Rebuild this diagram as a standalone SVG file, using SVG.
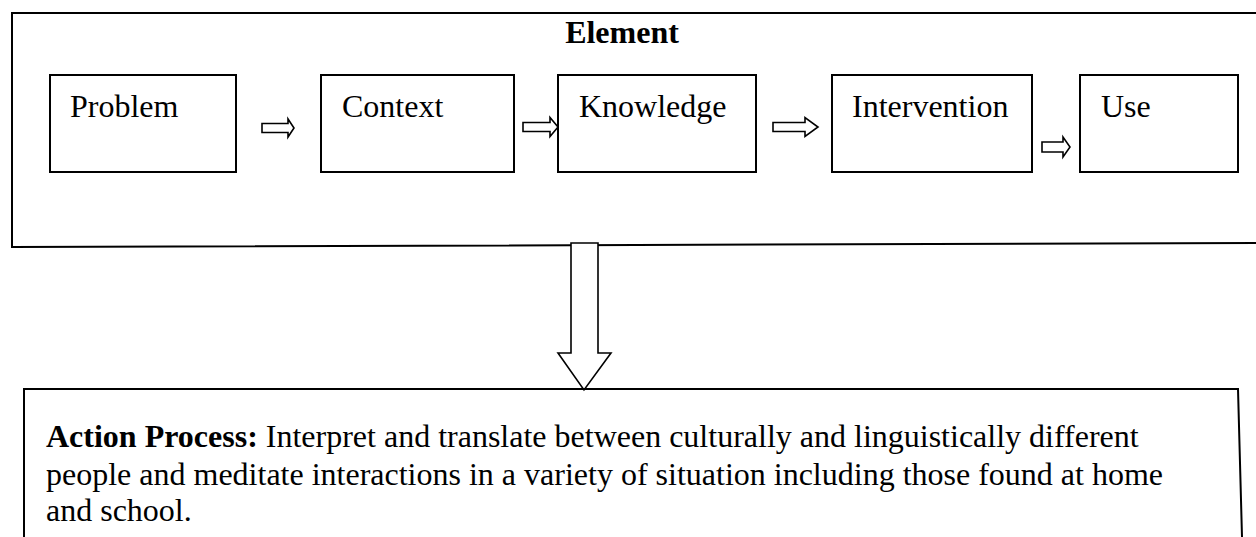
<svg xmlns="http://www.w3.org/2000/svg" width="1256" height="537" viewBox="0 0 1256 537">
<style>
.ln{fill:none;stroke:#000;stroke-width:2}
.box{fill:#fff;stroke:#000;stroke-width:2}
.arr{fill:#fff;stroke:#000;stroke-width:1.6;stroke-linejoin:miter}
.t{font-family:"Liberation Serif","Times New Roman",serif;font-size:32px;fill:#000}
.b{font-weight:bold}
</style>
<rect width="1256" height="537" fill="#fff"/>
<g id="element-frame">
<path class="ln" d="M1256,13 H12 V247 L1256,243"/>
<text class="t b" x="622" y="43" text-anchor="middle">Element</text>
</g>
<g id="problem"><rect class="box" x="50" y="75" width="186" height="97"/><text class="t" x="70" y="117">Problem</text></g>
<g id="context"><rect class="box" x="321" y="75" width="193" height="97"/><text class="t" x="342" y="117">Context</text></g>
<g id="knowledge"><rect class="box" x="558" y="75" width="198" height="97"/><text class="t" x="579" y="117">Knowledge</text></g>
<g id="intervention"><rect class="box" x="832" y="75" width="200" height="97"/><text class="t" x="852" y="117">Intervention</text></g>
<g id="use"><rect class="box" x="1080" y="75" width="158" height="97"/><text class="t" x="1101" y="117">Use</text></g>
<g id="connectors">
<path class="arr" d="M262,123.5 H288 V119 L294,128 L288,137 V132.5 H262 Z"/>
<path class="arr" d="M523,122.5 H550 V117.5 L558,127 L550,136.5 V131.5 H523 Z"/>
<path class="arr" d="M773,122.5 H805 V117.5 L818,127 L805,136.5 V131.5 H773 Z"/>
<path class="arr" d="M1042,142 H1063 V137 L1070,147 L1063,157 V152 H1042 Z"/>
<path class="arr" d="M571,243 H598 V353 H611 L584,390 L558,353 H571 Z" stroke-width="2"/>
</g>
<g id="action-process">
<path class="ln" d="M24,537 V389 H1238 L1242,537"/>
<text class="t" x="46" y="447"><tspan class="b">Action Process:</tspan> Interpret and translate between culturally and linguistically different</text>
<text class="t" x="46" y="485">people and meditate interactions in a variety of situation including those found at home</text>
<text class="t" x="46" y="521">and school.</text>
</g>
</svg>
